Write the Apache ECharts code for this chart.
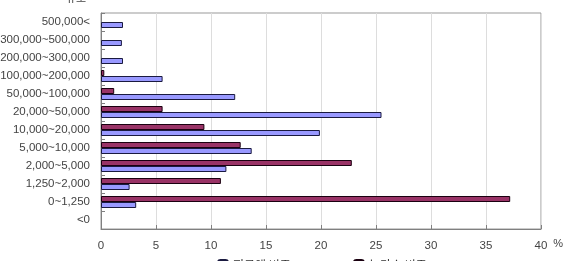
<!DOCTYPE html>
<html>
<head>
<meta charset="utf-8">
<script src="https://cdn.jsdelivr.net/npm/echarts@6/dist/echarts.min.js"></script>
<style>
  html, body { margin: 0; padding: 0; background: #fff; }
  #chart { width: 567px; height: 261px; }
</style>
</head>
<body>
<div id="chart"></div>
<script>
// size classes, top to bottom
var categories = ['500,000<', '300,000~500,000', '200,000~300,000', '100,000~200,000',
  '50,000~100,000', '20,000~50,000', '10,000~20,000', '5,000~10,000',
  '2,000~5,000', '1,250~2,000', '0~1,250', '<0']
// share of payments (%)
var paymentShare = [2.0, 1.9, 2.0, 5.6, 12.2, 25.5, 19.9, 13.7, 11.4, 2.6, 3.2, 0]
// share of farm households (%)
var farmShare = [0, 0, 0, 0.3, 1.2, 5.6, 9.4, 12.7, 22.8, 10.9, 37.2, 0]
var xTicks = [0, 5, 10, 15, 20, 25, 30, 35, 40]

var font = '"Liberation Sans", "Noto Sans CJK KR", sans-serif'
var chart = echarts.init(document.getElementById('chart'))

// zero shares have no visible bar in the original
function hideZero (arr) {
  return arr.map(function (v) { return v === 0 ? '-' : v })
}

chart.setOption({
  animation: false,
  textStyle: { fontFamily: font },
  grid: {
    left: 101,
    right: 26,
    top: 13,
    bottom: 32,
    outerBoundsMode: 'none',
    containLabel: false,
    show: true,
    borderColor: '#999',
    borderWidth: 1
  },
  legend: {
    data: ['지급액 비중', '농가수 비중'],
    left: 212,
    top: 254,
    itemWidth: 10,
    itemHeight: 10,
    itemGap: 62,
    textStyle: { fontSize: 12, color: '#333', fontFamily: '"Noto Sans CJK KR", sans-serif' }
  },
  xAxis: {
    type: 'value',
    min: xTicks[0],
    max: xTicks[xTicks.length - 1],
    interval: 5,
    name: '%',
    nameLocation: 'end',
    nameGap: 10,
    nameTextStyle: { fontSize: 11, color: '#444', verticalAlign: 'top', padding: [9, 0, 0, 0] },
    axisLine: { show: true, lineStyle: { color: '#808080' } },
    axisTick: { show: true, inside: true, length: 4, lineStyle: { color: '#808080' } },
    axisLabel: { fontSize: 11.5, color: '#444', margin: 11 },
    splitLine: { show: true, lineStyle: { color: '#ddd' } }
  },
  yAxis: {
    type: 'category',
    data: categories,
    inverse: true,
    name: '규모',
    nameLocation: 'start',
    nameGap: 10,
    nameTextStyle: { fontSize: 11, color: '#444', padding: [0, 50, 0, 0], fontFamily: '"Noto Sans CJK KR", sans-serif' },
    axisLine: { show: true, lineStyle: { color: '#808080' } },
    axisTick: { show: true, inside: true, length: 4, lineStyle: { color: '#808080' } },
    axisLabel: { fontSize: 11.5, color: '#444', margin: 11 },
    splitLine: { show: false }
  },
  // farm share listed first so it sits above the payment bar in each band
  series: [
    {
      name: '농가수 비중',
      type: 'bar',
      data: hideZero(farmShare),
      barWidth: 6,
      barGap: '0%',
      itemStyle: { color: '#993366', borderColor: '#1a0010', borderWidth: 1 }
    },
    {
      name: '지급액 비중',
      type: 'bar',
      data: hideZero(paymentShare),
      barWidth: 6,
      barGap: '0%',
      itemStyle: { color: '#9999ff', borderColor: '#1a1a40', borderWidth: 1 }
    }
  ]
})
</script>
</body>
</html>
